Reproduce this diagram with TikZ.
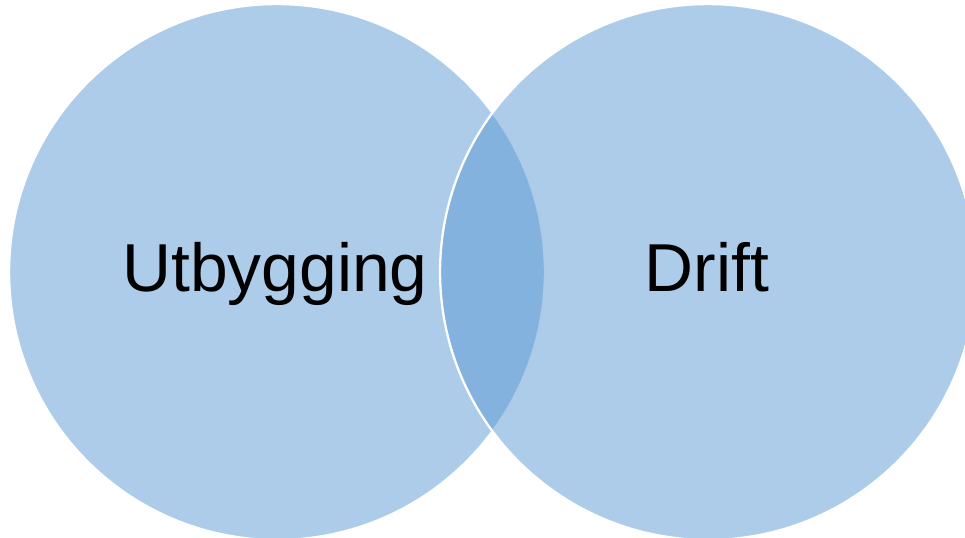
\documentclass[tikz,border=0pt]{standalone}
\usepackage{fontspec}
\setmainfont{Liberation Sans}
\usepackage{tikz}
\definecolor{vennblue}{RGB}{91,153,211}

\begin{document}
\begin{tikzpicture}[x=0.02cm, y=-0.02cm,
  venn/.style={circle, minimum size=10.72cm, inner sep=0pt, fill=vennblue, fill opacity=0.5, draw=white, draw opacity=1, line width=1.3pt},
  lbl/.style={anchor=base, inner sep=0pt, font=\fontsize{38.6}{45}\selectfont}]

\useasboundingbox (0,0) rectangle (965,538);

\node[venn] (utb) at (277,272) {};
\node[venn] (drift) at (708,272) {};
\node[lbl] (utbtext) at (275,291) {Utbygging};
\node[lbl] (drifttext) at (707,291) {Drift};

\end{tikzpicture}
\end{document}
